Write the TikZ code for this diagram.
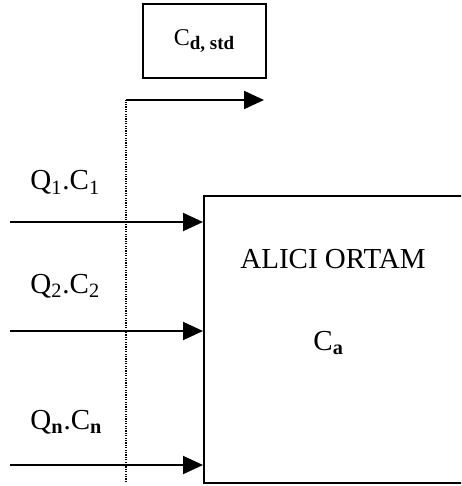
\documentclass[tikz,border=0pt]{standalone}
\usepackage{fontspec}
\setmainfont{Liberation Serif}
\usetikzlibrary{positioning, arrows.meta}

\begin{document}
\begin{tikzpicture}[
  x=0.5pt, y=-0.5pt,
  font=\fontsize{14.5}{17}\selectfont,
  box/.style={draw, line width=1pt, inner sep=0pt},
  flow/.style={-{Triangle[length=10pt, width=9pt]}, line width=1pt},
  dots/.style={dash pattern=on 0.6pt off 0.6pt, line width=1pt},
  lbl/.style={anchor=base west, inner sep=0pt},
]
  \useasboundingbox (0,0) rectangle (461,486);
  \clip (0,0) rectangle (461,486);

  % Receiving medium
  \node[box, minimum width=133pt, minimum height=143.5pt] (alici) at (337,339.5) {};
  \node[lbl] (ortam) at (240,268) {ALICI ORTAM};
  \node[lbl] (ca) at (313,350) {C\textsubscript{\textbf{a}}};

  % Standard concentration
  \node[box, minimum width=61.5pt, minimum height=37pt,
        font=\fontsize{12}{14}\selectfont] (std) at (204.5,41)
        {C\textsubscript{\fontsize{9.5}{11}\selectfont\textbf{d, std}}};

  % Dotted branch
  \coordinate (dtop) at (126,100);
  \coordinate (dbot) at (126,482);
  \coordinate (dtip) at (264,100);
  \draw[dots] (dbot) -- (dtop);
  \draw[flow] (dtop) -- (dtip);

  % Inputs
  \foreach \y/\n in {222/1, 331/2, 465/3} {
    \coordinate (q\n) at (10,\y);
    \draw[flow] (q\n) -- (q\n -| alici.west);
  }
  \node[lbl] (qc1) at (30,190) {Q\textsubscript{1}.C\textsubscript{1}};
  \node[lbl] (qc2) at (30,293) {Q\textsubscript{2}.C\textsubscript{2}};
  \node[lbl] (qcn) at (30,429) {Q\textsubscript{\textbf{n}}.C\textsubscript{\textbf{n}}};
\end{tikzpicture}
\end{document}
